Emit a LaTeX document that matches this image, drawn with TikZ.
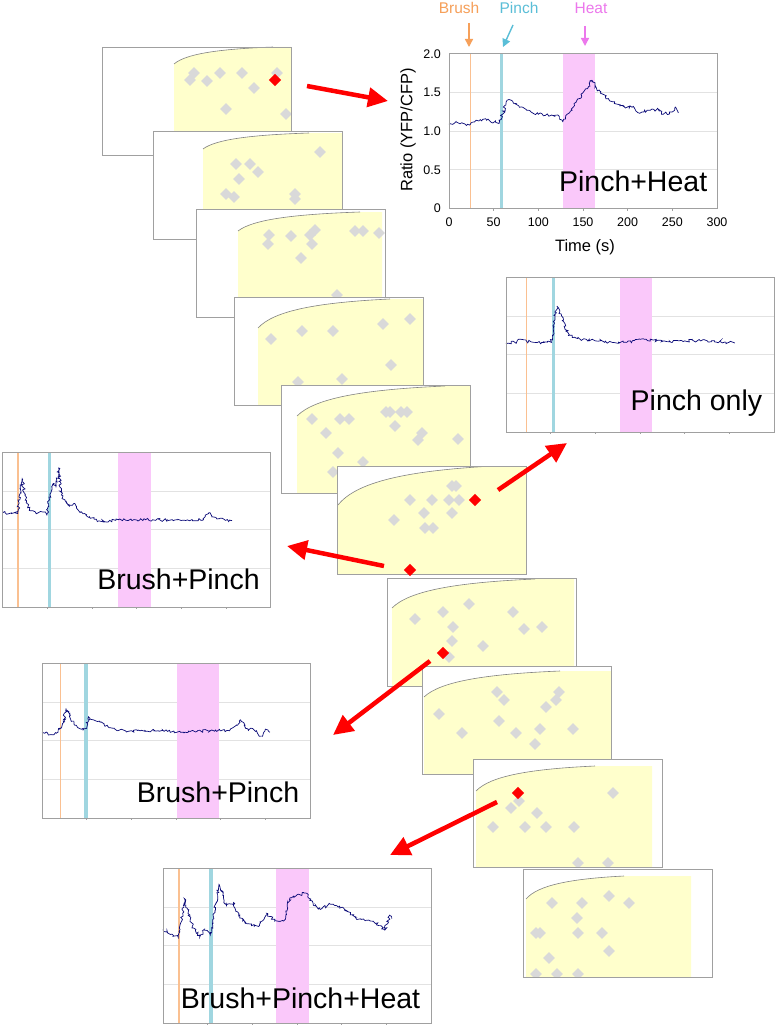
\documentclass[tikz,border=0pt]{standalone}
\usepackage{fontspec}
\setmainfont{Liberation Sans}
\usetikzlibrary{arrows.meta,shapes.geometric,decorations.pathmorphing,calc,positioning}

\definecolor{framec}{RGB}{160,160,160}
\definecolor{curvec}{RGB}{130,130,130}
\definecolor{yelc}{RGB}{255,255,204}
\definecolor{diac}{RGB}{217,217,217}
\definecolor{gridc}{RGB}{226,226,226}
\definecolor{navyc}{RGB}{10,10,120}
\definecolor{brushc}{RGB}{250,192,145}
\definecolor{pinchc}{RGB}{160,214,224}
\definecolor{heatc}{RGB}{250,200,250}
\definecolor{brushtxt}{RGB}{246,160,90}
\definecolor{pinchtxt}{RGB}{90,190,215}
\definecolor{heattxt}{RGB}{236,120,236}

% one ratio trace: name, left, bottom, brush, pinch, heat from, heat to, trace
\newcommand{\ratioplot}[8]{%
  \begin{scope}[shift={(#2pt,-#3pt)}, x=0.8933pt, y=77.25pt]
    \node[chartbox] (#1) at (0,0) {};
    \foreach \r in {0.5,1,1.5} \draw[gridline] (0,\r) -- (300,\r);
    \fill[heatc] (#6,0) rectangle (#7,2);
    \fill[pinchc] (#5,0) rectangle ({#5+4},2);
    \draw[brushc, line width=1.6pt] (#4,0) -- (#4,2);
    \foreach \t in {50,100,...,250} \draw[framec, line width=0.6pt] (\t,0) -- (\t,-0.03);
    \draw[trace] plot coordinates {#8};
    \draw[framec, line width=0.9pt] (#1.south west) rectangle (#1.north east);
  \end{scope}}

\begin{document}
\begin{tikzpicture}[
    x=1pt, y=-1pt,
    >={Triangle[length=8pt,width=8pt]},
    slicebox/.style={draw=framec, fill=white, line width=0.9pt,
      minimum width=189pt, minimum height=108pt, inner sep=0pt, anchor=north west},
    chartbox/.style={fill=white, minimum width=268pt, minimum height=154.5pt,
      inner sep=0pt, anchor=south west},
    gdia/.style={diamond, aspect=1, fill=diac, minimum size=12pt, inner sep=0pt},
    rdia/.style={diamond, aspect=1, fill=red, minimum size=12.5pt, inner sep=0pt},
    gridline/.style={gridc, line width=0.8pt},
    trace/.style={navyc, line width=0.7pt, decorate,
      decoration={random steps, segment length=1.6pt, amplitude=1.5pt}},
    redarrow/.style={->, >={Triangle[length=20pt,width=19pt]}, red, line width=4.5pt},
    evarrow/.style={->, line width=1.4pt},
    caption/.style={font=\fontsize{28.5}{30}\selectfont, inner sep=0pt},
    ticklab/.style={font=\fontsize{12.5}{14}\selectfont, inner sep=1pt},
    axistitle/.style={font=\fontsize{16.5}{18}\selectfont, inner sep=1pt},
    evlabel/.style={font=\fontsize{15.5}{17}\selectfont, inner sep=1pt}
  ]
  \path[fill=white, use as bounding box] (0,0) rectangle (780,1025);
  \pgfmathsetseed{7}

  % stack of slices
  \foreach \n/\sx/\sy/\yl/\ys/\xe/\ye/\yr/\dl in {
    1/102/47/72/17/171/0/189/{(92,26),(88,33),(105,34),(118,26),(140,26),(152,41),(175,26),(124,62),(184,67)},
    2/153/131/50/18/156/2/189/{(167,21),(83,33),(97,33),(105,41),(86,48),(73,63),(81,66),(142,63),(142,68)},
    3/196/209/42/22/164/3/186/{(73,26),(72,35),(95,27),(114,26),(119,21),(116,35),(105,49),(159,22),(167,22),(183,24),(141,86)},
    4/234/297/24/31/156/2/189/{(37,42),(68,34),(99,34),(149,27),(176,22),(157,68),(64,85),(108,82)},
    5/281/385/16/31/164/1/189/{(31,34),(59,34),(68,34),(105,27),(109,27),(120,27),(126,27),(114,41),(141,48),(137,55),(177,54),(45,48),(57,68),(82,77),(52,87)},
    6/337/466/1/39/156/0/189/{(115,20),(119,20),(73,34),(95,34),(112,34),(122,34),(87,47),(115,47),(57,54),(88,62),(96,62)},
    7/387/578/5/30/148/1/187/{(28,41),(56,34),(82,26),(66,49),(65,63),(62,79),(96,68),(126,34),(137,51),(155,49)},
    8/422/666/2/31/138/5/189/{(75,26),(82,34),(137,26),(134,34),(124,41),(17,48),(77,55),(40,67),(94,67),(118,63),(151,63),(113,78)},
    9/473/759/3/32/122/7/179/{(38,49),(46,42),(64,54),(20,68),(52,68),(73,68),(101,68),(140,34),(105,104),(135,104)},
    10/523/869/3/30/101/7/168/{(29,34),(59,34),(86,27),(106,34),(54,49),(13,64),(17,64),(55,64),(79,64),(86,82),(26,89),(13,105),(34,105),(55,105)}}{
    \node[slicebox] (s\n) at (\sx,\sy) {};
    \begin{scope}[shift={(\sx pt,-\sy pt)}]
      \clip (0,0) rectangle (189,108);
      \fill[yelc] (\yl,\ys) .. controls +({0.12*(\xe-\yl)},{-0.6*(\ys-\ye)}) and +({-0.55*(\xe-\yl)},{0.12*(\ys-\ye)}) .. (\xe,\ye)
        -- (\yr,\ye) -- (\yr,108) -- (\yl,108) -- cycle;
      \draw[curvec, line width=0.6pt] (\yl,\ys) .. controls +({0.12*(\xe-\yl)},{-0.6*(\ys-\ye)}) and +({-0.55*(\xe-\yl)},{0.12*(\ys-\ye)}) .. (\xe,\ye);
      \foreach \p [count=\i] in \dl {\node[gdia] (g\n-\i) at \p {};}
    \end{scope}
    \draw[framec, line width=0.9pt] (s\n.north west) rectangle (s\n.south east);
  }

  % traces
  \ratioplot{c1}{449}{208.5}{24}{57}{128}{163.5}{(0,1.09) (10,1.11) (23,1.08) (35,1.15) (45,1.14) (56,1.10) (60,1.22) (64,1.38) (70,1.40) (78,1.33) (90,1.27) (100,1.22) (115,1.21) (122,1.21) (127,1.12) (135,1.24) (145,1.42) (155,1.55) (160,1.66) (165,1.56) (175,1.45) (185,1.36) (195,1.32) (205,1.31) (212,1.24) (225,1.27) (235,1.28) (240,1.22) (250,1.25) (253,1.31) (257,1.24)}
  \ratioplot{c2}{506}{432}{23}{51}{127.5}{163.5}{(0,1.15) (10,1.16) (17,1.20) (25,1.17) (40,1.16) (51,1.16) (54,1.40) (57,1.63) (60,1.55) (65,1.42) (70,1.25) (80,1.21) (100,1.18) (120,1.16) (135,1.16) (150,1.20) (165,1.19) (180,1.17) (200,1.18) (230,1.18) (256,1.15)}
  \ratioplot{c3}{2.5}{607}{17.5}{50.5}{129.5}{166}{(0,1.22) (10,1.21) (17,1.21) (19,1.45) (22,1.66) (25,1.45) (30,1.25) (40,1.22) (50,1.21) (53,1.45) (57,1.60) (60,1.55) (63,1.80) (66,1.45) (70,1.38) (75,1.30) (80,1.34) (85,1.25) (95,1.17) (110,1.11) (130,1.13) (160,1.13) (200,1.12) (225,1.13) (231,1.22) (240,1.14) (257,1.12)}
  \ratioplot{c4}{42}{818}{20.5}{47}{151}{198}{(0,1.11) (10,1.08) (18,1.11) (24,1.25) (27,1.42) (32,1.28) (40,1.17) (46,1.14) (50,1.16) (52,1.31) (58,1.27) (65,1.24) (75,1.17) (85,1.13) (100,1.13) (130,1.13) (160,1.11) (190,1.14) (210,1.13) (218,1.20) (222,1.27) (228,1.16) (240,1.13) (245,1.06) (250,1.15) (255,1.11)}
  \ratioplot{c5}{163}{1023}{18}{51.5}{126.5}{163}{(0,1.21) (10,1.15) (17,1.11) (20,1.30) (24,1.61) (28,1.42) (34,1.23) (41,1.11) (46,1.21) (53,1.14) (58,1.45) (63,1.79) (67,1.65) (71,1.51) (79,1.56) (86,1.36) (99,1.26) (108,1.26) (116,1.42) (125,1.32) (135,1.32) (142,1.62) (150,1.66) (161,1.68) (168,1.55) (176,1.47) (187,1.54) (202,1.49) (217,1.34) (232,1.32) (244,1.26) (248,1.20) (254,1.40) (256,1.35)}

  \node[caption, anchor=base east] (l1) at ([shift={(-10pt,17pt)}]c1.south east) {Pinch+Heat};
  \node[caption, anchor=base east] (l2) at ([shift={(-12pt,22pt)}]c2.south east) {Pinch only};
  \node[caption, anchor=base east] (l3) at ([shift={(-11pt,18pt)}]c3.south east) {Brush+Pinch};
  \node[caption, anchor=base east] (l4) at ([shift={(-11pt,16pt)}]c4.south east) {Brush+Pinch};
  \node[caption, anchor=base east] (l5) at ([shift={(-11pt,15pt)}]c5.south east) {Brush+Pinch+Heat};

  % axes of the top trace
  \foreach \r/\s [count=\i] in {0/0,0.5/0.5,1/1.0,1.5/1.5,2/2.0}
    \node[ticklab, anchor=east] (yl\i) at (442,{208.5-77.25*\r}) {\s};
  \foreach \t [count=\i] in {0,50,...,300}
    \node[ticklab] (xl\i) at ({449+0.8933*\t},222) {\t};
  \node[axistitle] (xt) at (585,247) {Time (s)};
  \node[axistitle, rotate=90] (yt) at (408,130) {Ratio (YFP/CFP)};

  % stimulus marks
  \node[evlabel, brushtxt] (brushlab) at (459,8) {Brush};
  \node[evlabel, pinchtxt] (pinchlab) at (519,8) {Pinch};
  \node[evlabel, heattxt] (heatlab) at (591,8) {Heat};
  \coordinate (brushtail) at (469,23);
  \coordinate (pinchtail) at (513,25);
  \coordinate (heattail) at (585,26);
  \coordinate (brushtip) at (469,47);
  \coordinate (pinchtip) at (503,47);
  \coordinate (heattip) at (585,46);
  \draw[evarrow, brushtxt] (brushtail) -- (brushtip);
  \draw[evarrow, pinchtxt] (pinchtail) -- (pinchtip);
  \draw[evarrow, heattxt] (heattail) -- (heattip);

  % picked cells and arrows
  \foreach \p [count=\i] in {(275,80),(475,500),(410,570),(443,653),(518,793)}
    \node[rdia] (d\i) at \p {};
  \foreach \ax/\ay/\bx/\by [count=\i] in {307/86/388/101, 498/490/567/443, 384/566/287/546, 430/661/333/735, 497/802/390/855}{
    \coordinate (t\i) at (\ax,\ay);
    \coordinate (h\i) at (\bx,\by);
    \draw[redarrow] (t\i) -- (h\i);
  }
\end{tikzpicture}
\end{document}
